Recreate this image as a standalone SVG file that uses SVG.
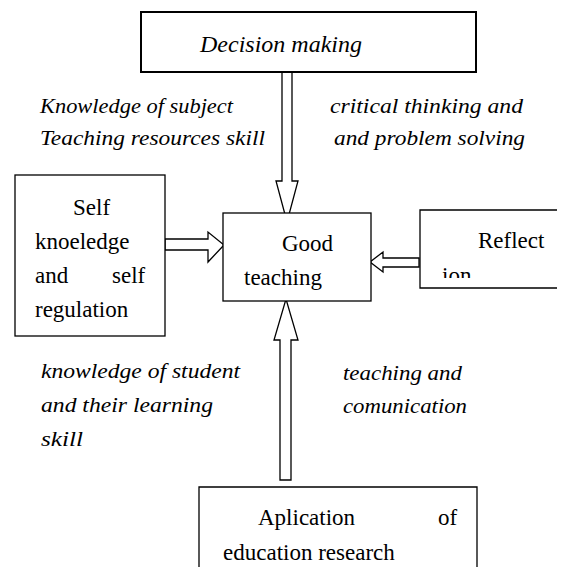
<svg xmlns="http://www.w3.org/2000/svg" width="562" height="567" viewBox="0 0 562 567">
<style>
.box{fill:#fff;stroke:#000;stroke-width:1.3}
.arr{fill:#fff;stroke:#000;stroke-width:1.3;stroke-linejoin:miter}
.t{font-family:'Liberation Serif','DejaVu Serif','Times New Roman',Times,serif;font-size:23px;fill:#000}
.i{font-style:italic;font-size:22px}
</style>
<defs>
<clipPath id="refclip"><rect x="420" y="210" width="142" height="68"/></clipPath>
</defs>
<rect width="562" height="567" fill="#fff"/>
<g id="connectors">
<polygon class="arr" points="282,72 282,181 276,181 287,222 298,181 292,181 292,72"/>
<polygon class="arr" points="165,239 208,239 208,232 224,245 208,262 208,250 165,250"/>
<polygon class="arr" points="419,258 383,258 383,252 370,262 383,272 383,267 419,267"/>
<polygon class="arr" points="280,480 280,340 274,340 286,299 298,340 291,340 291,480"/>
</g>
<g id="decision">
<rect x="141" y="12" width="335" height="60" fill="#fff" stroke="#000" stroke-width="2"/>
<text class="t i" x="200" y="52" style="font-size:24px" textLength="162" lengthAdjust="spacingAndGlyphs">Decision making</text>
</g>
<g id="self">
<rect class="box" x="15" y="175" width="150" height="161"/>
<text class="t" x="73" y="215">Self</text>
<text class="t" x="35" y="249">knoeledge</text>
<text class="t" x="35" y="283">and</text>
<text class="t" x="112" y="283">self</text>
<text class="t" x="35" y="317">regulation</text>
</g>
<g id="good">
<rect class="box" x="223" y="213" width="148" height="88"/>
<text class="t" x="282" y="251">Good</text>
<text class="t" x="244" y="285">teaching</text>
</g>
<g id="reflection">
<path d="M557,210 H420 V288 H557" fill="#fff" stroke="#000" stroke-width="1.3"/>
<text class="t" x="478" y="248">Reflect</text>
<text class="t" x="442" y="283" clip-path="url(#refclip)">ion</text>
</g>
<g id="application">
<path d="M199,567 V487 H477 V567" fill="#fff" stroke="#000" stroke-width="1.3"/>
<text class="t" x="258" y="525">Aplication</text>
<text class="t" x="438" y="525">of</text>
<text class="t" x="223" y="560">education research</text>
</g>
<g id="labels">
<text class="t i" x="40" y="113" textLength="193" lengthAdjust="spacingAndGlyphs">Knowledge of subject</text>
<text class="t i" x="40" y="145" textLength="225" lengthAdjust="spacingAndGlyphs">Teaching resources skill</text>
<text class="t i" x="330" y="113" textLength="193" lengthAdjust="spacingAndGlyphs">critical thinking and</text>
<text class="t i" x="334" y="145" textLength="191" lengthAdjust="spacingAndGlyphs">and problem solving</text>
<text class="t i" x="41" y="378" textLength="199" lengthAdjust="spacingAndGlyphs">knowledge of student</text>
<text class="t i" x="41" y="412" textLength="172" lengthAdjust="spacingAndGlyphs">and their learning</text>
<text class="t i" x="41" y="446" textLength="42" lengthAdjust="spacingAndGlyphs">skill</text>
<text class="t i" x="343" y="380" textLength="119" lengthAdjust="spacingAndGlyphs">teaching and</text>
<text class="t i" x="343" y="413" textLength="124" lengthAdjust="spacingAndGlyphs">comunication</text>
</g>
</svg>
